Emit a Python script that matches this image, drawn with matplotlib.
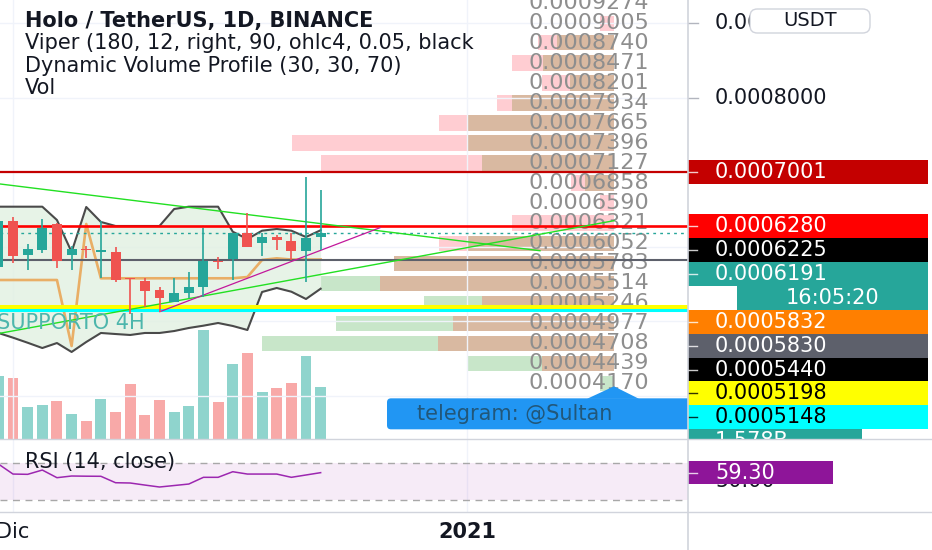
import matplotlib
matplotlib.use('Agg')
import matplotlib.pyplot as plt
import numpy as np
import pandas as pd
from matplotlib.patches import Rectangle, FancyBboxPatch, Polygon
from matplotlib.lines import Line2D
import matplotlib.transforms as mtransforms

plt.rcParams['font.family'] = ['DejaVu Sans']

# ---------------- data ----------------
dates = pd.date_range('2020-11-30', '2020-12-22', freq='D')
opens = [0.0005732, 0.0006349, 0.0005893, 0.0005960, 0.0006309, 0.0005893, 0.0005975, 0.0005933,
         0.0005937, 0.0005584, 0.0005548, 0.0005423, 0.0005266, 0.0005388, 0.0005467, 0.0005800,
         0.0005839, 0.0006188, 0.0006058, 0.0006134, 0.0006081, 0.0005946, 0.0006130]
highs = [0.0006370, 0.0006403, 0.0006040, 0.0006376, 0.0006320, 0.0006017, 0.0006017, 0.0006349,
         0.0006000, 0.0005584, 0.0005584, 0.0005463, 0.0005584, 0.0005668, 0.0006259, 0.0005870,
         0.0006188, 0.0006456, 0.0006192, 0.0006161, 0.0006188, 0.0006936, 0.0006765]
lows = [0.0005700, 0.0005785, 0.0005691, 0.0005919, 0.0005718, 0.0005691, 0.0005852, 0.0005584,
        0.0005534, 0.0005100, 0.0005199, 0.0005132, 0.0005266, 0.0005315, 0.0005333, 0.0005701,
        0.0005557, 0.0006000, 0.0005879, 0.0005960, 0.0005826, 0.0005534, 0.0005960]
closes = [0.0006349, 0.0005879, 0.0005973, 0.0006259, 0.0005812, 0.0005973, 0.0005955, 0.0005953,
          0.0005557, 0.0005570, 0.0005413, 0.0005315, 0.0005383, 0.0005467, 0.0005812, 0.0005795,
          0.0006188, 0.0006000, 0.0006134, 0.0006094, 0.0005946, 0.0006121, 0.0006191]
volumes_m = [1914, 1853, 977, 1029, 1151, 763, 540, 1221, 815, 1669, 723, 1190, 830, 1022,
             3318, 1129, 2301, 2625, 1425, 1557, 1709, 2524, 1578]
rsi = [68.6, 57.8, 57.5, 62.1, 53.9, 55.7, 55.5, 55.4, 48.5, 48.2, 46.0, 43.9, 45.5, 47.1,
       54.3, 54.3, 60.3, 57.8, 57.8, 57.8, 54.3, 56.8, 59.3]
viper_upper = [0.0006541, 0.0006541, 0.0006541, 0.0006541, 0.0006362, 0.0005933, 0.0006537, 0.0006336,
               0.0006282, 0.0006282, 0.0006282, 0.0006282, 0.0006510, 0.0006541, 0.0006541, 0.0006541,
               0.0006205, 0.0006107, 0.0006219, 0.0006242, 0.0006219, 0.0006134, 0.0006225]
viper_lower = [0.0004846, 0.0004783, 0.0004715, 0.0004644, 0.0004711, 0.0004591, 0.0004725, 0.0004846,
               0.0004832, 0.0004819, 0.0004846, 0.0004846, 0.0004872, 0.0004913, 0.0004944, 0.0004980,
               0.0004940, 0.0004886, 0.0005396, 0.0005450, 0.0005400, 0.0005302, 0.0005440]
viper_trail = [0.0005557, 0.0005557, 0.0005557, 0.0005557, 0.0005557, 0.0004671, 0.0006309, 0.0005580,
               0.0005580, 0.0005580, 0.0005580, 0.0005580, 0.0005580, 0.0005580, 0.0005580, 0.0005580,
               0.0005580, 0.0005597, 0.0005826, 0.0005848, 0.0005832, 0.0005832, 0.0005832]

# volume profile rows
vp_labels = ['0.0009274', '0.0009005', '0.0008740', '0.0008471', '0.0008201', '0.0007934', '0.0007665',
             '0.0007396', '0.0007127', '0.0006858', '0.0006590', '0.0006321', '0.0006052', '0.0005783',
             '0.0005514', '0.0005246', '0.0004977', '0.0004708', '0.0004439', '0.0004170']
vp_sell = [0, 140, 760, 1020, 720, 1170, 1750, 3220, 2930, 430, 140, 1020, 1750, 2200,
           2340, 1320, 1610, 1760, 720, 0]
vp_buy = [0, 0, 570, 710, 440, 1020, 1460, 1460, 1320, 290, 0, 0, 1460, 2200,
          2930, 1900, 2780, 3520, 1460, 140]

# drawn lines (start/end)
trend_desc_dates = ['2020-11-30 02:42', '2021-01-05 23:20']
trend_desc_prices = [0.0006846, 0.0005950]
trend_asc_dates = ['2020-11-30 02:42', '2021-01-11 00:30']
trend_asc_prices = [0.0004842, 0.0006353]
trend_mag_dates = ['2020-12-11 00:40', '2020-12-26 01:10']
trend_mag_prices = [0.0005132, 0.0006259]

level_prices = [0.0007001, 0.0006280, 0.0005830, 0.0005198, 0.0005148]
level_colors = ['#C40000', '#FF0000', '#5D606B', '#FFFF00', '#00FFFF']
level_widths = [1.6, 1.9, 1.5, 2.9, 2.2]
support_4h = 0.0005148

price_ticks = [0.0004, 0.0005, 0.0006, 0.0007, 0.0008, 0.0009]
countdown = '16:05:20'

# ---------------- layout ----------------
W, H = 932, 550
def frac(l, t, r, b):
    return [l / W, 1 - b / H, (r - l) / W, (b - t) / H]

t0 = pd.Timestamp('2020-12-01')
def dnum(d):
    return (pd.to_datetime(d) - t0) / pd.Timedelta(days=1)

x = np.array([dnum(d) for d in dates])
PXD = 14.65
XL = (-13 / PXD, 675 / PXD)
PY = (0.00034228, 0.00093154)
RY = (17.1, 95.4)
FS = 15

fig = plt.figure(figsize=(W / 100, H / 100), dpi=100)
fig.patch.set_facecolor('white')

ax_vp = fig.add_axes(frac(0, 0, 614, 439))
ax = fig.add_axes(frac(0, 0, 688, 439))
ax_vol = ax.twinx()
ax_rsi = fig.add_axes(frac(0, 439, 688, 512))
ax_pr = fig.add_axes(frac(688, 0, 932, 439))
ax_rr = fig.add_axes(frac(688, 439, 932, 512))
ax_vp.set_zorder(0)
ax_vol.set_zorder(0.5)
ax.set_zorder(1)
ax.patch.set_alpha(0)
ax_vol.patch.set_visible(False)

for a in (ax_vp, ax, ax_vol, ax_pr, ax_rr):
    a.set_axis_off()

# ---------------- volume profile ----------------
vp_rows = np.array([float(s) for s in vp_labels])
step = abs(vp_rows[1] - vp_rows[2])
sell = np.array(vp_sell, float)
buy = np.array(vp_buy, float)
common = np.minimum(sell, buy)
extra = np.abs(sell - buy)
ext_col = ['#FFCDD2' if s > b else '#C8E6C9' for s, b in zip(sell, buy)]
ax_vp.barh(vp_rows, common, height=step * 0.77, color='#D9B9A1', left=0)
ax_vp.barh(vp_rows, extra, height=step * 0.77, left=common, color=ext_col)
ax_vp.set_xlim(6140, 0)
ax_vp.set_ylim(*PY)

# ---------------- main pane ----------------
for p in price_ticks:
    ax.axhline(p, color='#F0F3FA', lw=1, zorder=0.2)
for d in ['2020-12-01', '2021-01-01']:
    ax.axvline(dnum(d), color='#F0F3FA', lw=1, zorder=0.2)
    ax_rsi.axvline(dnum(d), color='#F0F3FA', lw=1, zorder=0.2)

# VP labels
blend = mtransforms.blended_transform_factory(ax.transAxes, ax.transData)
for lab, rp in zip(vp_labels, vp_rows):
    ax.text(528 / 688, rp, lab, transform=blend, fontsize=16, color='#8E8E8E', va='center',
            ha='left', zorder=1, clip_on=True)

# viper band
ax.fill_between(x, viper_lower, viper_upper, color='#E3F1E3', alpha=0.85, zorder=1.2, lw=0)
ax.plot(x, viper_trail, color='#E9AE66', lw=1.9, zorder=1.5)
ax.plot(x, viper_upper, color='#4A4A4A', lw=1.5, zorder=1.6)
ax.plot(x, viper_lower, color='#4A4A4A', lw=1.5, zorder=1.6)

# horizontal levels
for p, c, lw in zip(level_prices, level_colors, level_widths):
    ax.axhline(p, color=c, lw=lw, zorder=2)
ax.axhline(closes[-1], color='#26A69A', lw=1, ls=(0, (2, 3)), zorder=2)

# trend lines
ax.plot([dnum(d) for d in trend_desc_dates], trend_desc_prices, color='#22E022', lw=1.0, zorder=2.2)
ax.plot([dnum(d) for d in trend_asc_dates], trend_asc_prices, color='#22E022', lw=1.0, zorder=2.2)
ax.plot([dnum(d) for d in trend_mag_dates], trend_mag_prices, color='#C2189B', lw=0.9, zorder=2.2)

# candles
o = np.array(opens); c = np.array(closes); hi = np.array(highs); lo = np.array(lows)
up = c >= o
cols = np.where(up, '#26A69A', '#EF5350')
ax.vlines(x, lo, hi, colors=cols, lw=1.2, zorder=3)
body_h = np.maximum(np.abs(c - o), 0.0000018)
ax.bar(x, body_h, bottom=np.minimum(o, c), width=0.68, color=cols, zorder=3.1, lw=0)

ax.annotate('SUPPORTO 4H', xy=(XL[0], support_4h), xytext=(-2, -2), textcoords='offset points',
            fontsize=FS, color='#4DB6AC', va='top', ha='left', zorder=2.5, annotation_clip=False)

# header
hdr = ['Holo / TetherUS, 1D, BINANCE', 'Viper (180, 12, right, 90, ohlc4, 0.05, black',
       'Dynamic Volume Profile (30, 30, 70)', 'Vol']
for i, t in enumerate(hdr):
    ax.text(25 / 688, 1 - (21 + 22.3 * i) / 439, t, transform=ax.transAxes, fontsize=FS,
            fontweight='bold' if i == 0 else 'normal', color='#131722', va='center', ha='left',
            zorder=5, clip_on=True)

ax.set_xlim(*XL)
ax.set_ylim(*PY)

# volume overlay
vcols = np.where(up, '#8FD4CD', '#F8A9A8')
ax_vol.bar(x, volumes_m, width=0.75, color=vcols, lw=0)
ax_vol.set_ylim(0, 13398)
ax_vol.set_xlim(*XL)

# callout anchored to lowest VP row
ident = mtransforms.IdentityTransform()
tip = ax_vp.transData.transform((0, vp_rows[-1]))
tx, ty = tip[0], tip[1] - 3
box = FancyBboxPatch((tx - 227, ty - 43), 330, 31, boxstyle='round,pad=0,rounding_size=4',
                     transform=ident, facecolor='#2196F3', edgecolor='none', zorder=6)
ax.add_patch(box)
tri = Polygon([(tx - 27, ty - 12.5), (tx, ty), (tx + 25, ty - 12.5)], closed=True,
              transform=ident, facecolor='#2196F3', edgecolor='none', zorder=6)
ax.add_patch(tri)
ax.text(tx - 197, ty - 28, 'telegram: @Sultan', transform=ident, fontsize=FS, color='#21577A',
        va='center', ha='left', zorder=7, clip_on=True)
ax.set_xlim(*XL)
ax.set_ylim(*PY)

# ---------------- RSI pane ----------------
ax_rsi.axhspan(30, 70, color='#9C27B0', alpha=0.09, lw=0, zorder=0.3)
ax_rsi.axhline(70, color='#A8A8A8', lw=1, ls=(0, (5, 4)), zorder=0.5)
ax_rsi.axhline(30, color='#A8A8A8', lw=1, ls=(0, (5, 4)), zorder=0.5)
ax_rsi.plot(x, rsi, color='#9C27B0', lw=1.1, zorder=2)
ax_rsi.text(25 / 688, (512 - 462) / 73, 'RSI (14, close)', transform=ax_rsi.transAxes, fontsize=FS,
            color='#131722', va='center', ha='left', zorder=3)
ax_rsi.set_xlim(*XL)
ax_rsi.set_ylim(*RY)
ax_rsi.set_yticks([])
ax_rsi.set_xticks([dnum('2020-12-01'), dnum('2021-01-01')])
ax_rsi.set_xticklabels(['Dic', '2021'], fontsize=FS, color='#131722')
ax_rsi.get_xticklabels()[1].set_fontweight('bold')
ax_rsi.tick_params(axis='x', length=0, pad=7)
for s in ax_rsi.spines.values():
    s.set_visible(False)
ax_rsi.patch.set_alpha(0)

# ---------------- price scale ----------------
ax_pr.set_xlim(0, 244)
ax_pr.set_ylim(*PY)

lbl_h = 23.9 * (PY[1] - PY[0]) / 439
vol_disp = ax_vol.transData.transform((0, volumes_m[-1]))
vol_price = ax.transData.inverted().transform(vol_disp)[1]
labels = [
    (f'{level_prices[0]:.7f}', level_prices[0], '#C40000', 'white', 0),
    (f'{level_prices[1]:.7f}', level_prices[1], '#FF0000', 'white', 0),
    (f'{viper_upper[-1]:.7f}', viper_upper[-1], '#000000', 'white', 0),
    (f'{closes[-1]:.7f}', closes[-1], '#26A69A', 'white', 0),
    (countdown, closes[-1], '#26A69A', 'white', 49),
    (f'{viper_trail[-1]:.7f}', viper_trail[-1], '#FF7F00', 'white', 0),
    (f'{level_prices[2]:.7f}', level_prices[2], '#5D606B', 'white', 0),
    (f'{viper_lower[-1]:.7f}', viper_lower[-1], '#000000', 'white', 0),
    (f'{level_prices[3]:.7f}', level_prices[3], '#FFFF00', 'black', 0),
    (f'{level_prices[4]:.7f}', level_prices[4], '#00FFFF', 'black', 0),
    (f'{volumes_m[-1] / 1000:.3f}B', vol_price, '#26A69A', 'white', 0),
]
prev = None
spans = []
for txt, val, bg, fg, x0 in labels:
    cy = val if prev is None else min(val, prev - lbl_h)
    prev = cy
    spans.append((cy - lbl_h / 2, cy + lbl_h / 2))
    w = 174 if txt.endswith('B') else 240 - x0
    ax_pr.add_patch(Rectangle((x0, cy - lbl_h / 2), w, lbl_h, facecolor=bg, edgecolor='none',
                              zorder=3, clip_on=True))
    if x0 == 0:
        ax_pr.plot([0, 9], [cy, cy], color=fg, lw=1, alpha=0.8, zorder=4, clip_on=True)
    if txt == countdown:
        ax_pr.text(x0 + (240 - x0) / 2, cy, txt, fontsize=FS, color=fg, va='center', ha='center',
                   zorder=5, clip_on=True)
    else:
        ax_pr.text(27, cy, txt, fontsize=FS, color=fg, va='center', ha='left', zorder=5, clip_on=True)

# tick labels not hidden by the label boxes
for p in price_ticks:
    if any(lo_ - lbl_h * 0.3 <= p <= hi_ + lbl_h * 0.3 for lo_, hi_ in spans):
        continue
    ax_pr.plot([0, 10], [p, p], color='#B2B5BE', lw=1, clip_on=True)
    ax_pr.text(27, p, f'{p:.7f}', fontsize=FS, color='#131722', va='center', ha='left', clip_on=True)

# USDT button
ub = FancyBboxPatch((62 / 244, 1 - 33 / 439), 120 / 244, 24 / 439,
                    boxstyle='round,pad=0,rounding_size=0.03', transform=ax_pr.transAxes,
                    facecolor='white', edgecolor='#D1D4DC', lw=1, zorder=6,
                    mutation_aspect=244 / 439)
ax_pr.add_patch(ub)
ax_pr.text(122 / 244, 1 - 21 / 439, 'USDT', transform=ax_pr.transAxes, fontsize=14,
           color='#131722', va='center', ha='center', zorder=7)

# RSI scale
ax_rr.set_xlim(0, 244)
ax_rr.set_ylim(*RY)
ax_rr.text(27, 50, '50.00', fontsize=FS, color='#131722', va='center', ha='left', clip_on=True)
ax_rr.add_patch(Rectangle((0, rsi[-1] - 12.2), 145, 24.4, facecolor='#8E1599', edgecolor='none', zorder=3))
ax_rr.plot([0, 9], [rsi[-1], rsi[-1]], color='white', lw=1, alpha=0.8, zorder=4)
ax_rr.text(27, rsi[-1], f'{rsi[-1]:.2f}', fontsize=FS, color='white', va='center', ha='left', zorder=5)

# separators
sep = '#D1D4DC'
fig.add_artist(Line2D([688 / W, 688 / W], [0, 1], transform=fig.transFigure, color=sep, lw=1.2))
fig.add_artist(Line2D([0, 1], [1 - 439 / H, 1 - 439 / H], transform=fig.transFigure, color=sep, lw=1))
fig.add_artist(Line2D([0, 1], [1 - 512 / H, 1 - 512 / H], transform=fig.transFigure, color=sep, lw=1))

fig.savefig('out.png', dpi=100, facecolor='white')
